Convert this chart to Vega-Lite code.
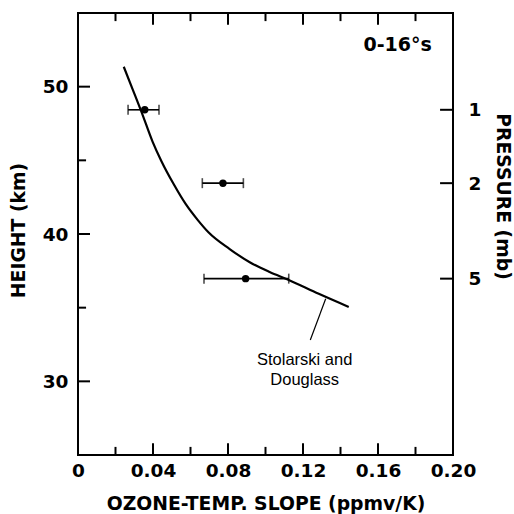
{
  "$schema": "https://vega.github.io/schema/vega-lite/v6.json",
  "autosize": "none",
  "width": 375,
  "height": 442,
  "padding": {"left": 78, "top": 13, "right": 61, "bottom": 59},
  "background": "white",
  "config": {
    "view": {"stroke": "black", "strokeWidth": 2},
    "axis": {
      "domain": false,
      "grid": false,
      "ticks": false,
      "tickSize": 0,
      "labelFont": "DejaVu Sans",
      "labelFontWeight": "bold",
      "labelFontSize": 18.5,
      "labelColor": "black",
      "titleFont": "DejaVu Sans",
      "titleFontWeight": "bold",
      "titleFontSize": 18.8,
      "titleColor": "black",
      "labelOverlap": false,
      "labelFlush": false
    }
  },
  "datasets": {
    "curve": [
      {"slope": 0.0244, "height": 51.35},
      {"slope": 0.0292, "height": 49.8},
      {"slope": 0.0338, "height": 48.31},
      {"slope": 0.0397, "height": 46.29},
      {"slope": 0.0445, "height": 44.94},
      {"slope": 0.051, "height": 43.39},
      {"slope": 0.0574, "height": 42.04},
      {"slope": 0.0638, "height": 40.96},
      {"slope": 0.0697, "height": 40.1},
      {"slope": 0.0809, "height": 38.98},
      {"slope": 0.0916, "height": 38.08},
      {"slope": 0.1022, "height": 37.42},
      {"slope": 0.1124, "height": 36.88},
      {"slope": 0.1284, "height": 35.94},
      {"slope": 0.1444, "height": 35.05}
    ],
    "obs": [
      {"pressure": 1, "height": 48.43, "slope": 0.0356, "lo": 0.0267, "hi": 0.0432},
      {"pressure": 2, "height": 43.45, "slope": 0.0773, "lo": 0.0663, "hi": 0.0882},
      {"pressure": 5, "height": 36.97, "slope": 0.0894, "lo": 0.0672, "hi": 0.1124}
    ],
    "slopeMajor": [{"slope": 0.04}, {"slope": 0.08}, {"slope": 0.12}, {"slope": 0.16}],
    "slopeMinor": [{"slope": 0.02}, {"slope": 0.06}, {"slope": 0.10}, {"slope": 0.14}, {"slope": 0.18}],
    "heightMajor": [{"height": 30}, {"height": 40}, {"height": 50}],
    "heightMinor": [{"height": 35}, {"height": 45}],
    "leader": [
      {"x1": 0.1321, "y1": 35.6, "x2": 0.1239, "y2": 32.8}
    ],
    "labels": [
      {"slope": 0.1209, "height": 31.46, "text": "Stolarski and"},
      {"slope": 0.1209, "height": 30.11, "text": "Douglass"}
    ],
    "region": [
      {"slope": 0.1705, "height": 52.83, "text": "0-16°s"}
    ]
  },
  "resolve": {"axis": {"x": "independent", "y": "independent"}},
  "layer": [
    {
      "data": {"name": "slopeMajor"},
      "mark": {"type": "rect", "color": "black", "width": 2},
      "encoding": {
        "x": {"field": "slope", "type": "quantitative", "axis": null, "scale": {"domain": [0, 0.2], "nice": false, "zero": false}},
        "y": {"datum": 25, "type": "quantitative", "axis": null, "scale": {"domain": [25, 55], "nice": false, "zero": false}},
        "y2": {"datum": 25.8}
      }
    },
    {
      "data": {"name": "slopeMinor"},
      "mark": {"type": "rect", "color": "black", "width": 2},
      "encoding": {
        "x": {"field": "slope", "type": "quantitative", "axis": null},
        "y": {"datum": 25, "type": "quantitative", "axis": null},
        "y2": {"datum": 25.55}
      }
    },
    {
      "data": {"name": "slopeMajor"},
      "mark": {"type": "rect", "color": "black", "width": 2},
      "encoding": {
        "x": {"field": "slope", "type": "quantitative", "axis": null},
        "y": {"datum": 54.2, "type": "quantitative", "axis": null},
        "y2": {"datum": 55}
      }
    },
    {
      "data": {"name": "slopeMinor"},
      "mark": {"type": "rect", "color": "black", "width": 2},
      "encoding": {
        "x": {"field": "slope", "type": "quantitative", "axis": null},
        "y": {"datum": 54.45, "type": "quantitative", "axis": null},
        "y2": {"datum": 55}
      }
    },
    {
      "data": {"name": "heightMajor"},
      "mark": {"type": "rect", "color": "black", "height": 2},
      "encoding": {
        "x": {"datum": 0, "type": "quantitative", "axis": null},
        "x2": {"datum": 0.0064},
        "y": {"field": "height", "type": "quantitative", "axis": null}
      }
    },
    {
      "data": {"name": "heightMinor"},
      "mark": {"type": "rect", "color": "black", "height": 2},
      "encoding": {
        "x": {"datum": 0, "type": "quantitative", "axis": null},
        "x2": {"datum": 0.0043},
        "y": {"field": "height", "type": "quantitative", "axis": null}
      }
    },
    {
      "data": {"name": "obs"},
      "mark": {"type": "rect", "color": "black", "height": 2},
      "encoding": {
        "x": {"datum": 0.1931, "type": "quantitative", "axis": null},
        "x2": {"datum": 0.2},
        "y": {"field": "height", "type": "quantitative", "axis": null}
      }
    },
    {
      "data": {"name": "curve"},
      "mark": {"type": "line", "color": "black", "strokeWidth": 2.2, "interpolate": "monotone"},
      "encoding": {
        "x": {
          "field": "slope", "type": "quantitative",
          "axis": {
            "orient": "bottom",
            "title": "OZONE-TEMP. SLOPE (ppmv/K)",
            "values": [0, 0.04, 0.08, 0.12, 0.16, 0.2],
            "labelExpr": "datum.value == 0 ? '0' : format(datum.value, '.2f')",
            "labelPadding": 6,
            "titleY": 48,
            "titleBaseline": "middle"
          }
        },
        "y": {
          "field": "height", "type": "quantitative",
          "axis": {
            "orient": "left",
            "title": "HEIGHT (km)",
            "values": [30, 40, 50],
            "labelPadding": 10,
            "titleX": -60,
            "titleY": 217,
            "titleBaseline": "middle"
          }
        },
        "order": {"field": "slope", "type": "quantitative"}
      }
    },
    {
      "data": {"name": "obs"},
      "mark": {"type": "rule", "color": "black", "strokeWidth": 1.6},
      "encoding": {
        "x": {"field": "lo", "type": "quantitative", "axis": null},
        "x2": {"field": "hi"},
        "y": {
          "field": "height", "type": "quantitative",
          "axis": {
            "orient": "right",
            "title": "PRESSURE (mb)",
            "titleAngle": 90,
            "values": [48.43, 43.45, 36.97],
            "labelExpr": "datum.value > 48 ? '1' : datum.value > 40 ? '2' : '5'",
            "labelPadding": 15,
            "titleX": 49,
            "titleY": 183,
            "titleBaseline": "middle"
          }
        }
      }
    },
    {
      "data": {"name": "obs"},
      "mark": {"type": "tick", "color": "black", "orient": "vertical", "size": 10, "thickness": 1.6},
      "encoding": {
        "x": {"field": "lo", "type": "quantitative", "axis": null},
        "y": {"field": "height", "type": "quantitative", "axis": null}
      }
    },
    {
      "data": {"name": "obs"},
      "mark": {"type": "tick", "color": "black", "orient": "vertical", "size": 10, "thickness": 1.6},
      "encoding": {
        "x": {"field": "hi", "type": "quantitative", "axis": null},
        "y": {"field": "height", "type": "quantitative", "axis": null}
      }
    },
    {
      "data": {"name": "obs"},
      "mark": {"type": "circle", "color": "black", "opacity": 1, "size": 55},
      "encoding": {
        "x": {"field": "slope", "type": "quantitative", "axis": null},
        "y": {"field": "height", "type": "quantitative", "axis": null}
      }
    },
    {
      "data": {"name": "leader"},
      "mark": {"type": "rule", "color": "black", "strokeWidth": 1.2},
      "encoding": {
        "x": {"field": "x1", "type": "quantitative", "axis": null},
        "y": {"field": "y1", "type": "quantitative", "axis": null},
        "x2": {"field": "x2"},
        "y2": {"field": "y2"}
      }
    },
    {
      "data": {"name": "labels"},
      "mark": {"type": "text", "font": "Liberation Sans", "fontSize": 16.5, "color": "black", "align": "center", "baseline": "middle"},
      "encoding": {
        "x": {"field": "slope", "type": "quantitative", "axis": null},
        "y": {"field": "height", "type": "quantitative", "axis": null},
        "text": {"field": "text"}
      }
    },
    {
      "data": {"name": "region"},
      "mark": {"type": "text", "font": "DejaVu Sans", "fontWeight": "bold", "fontSize": 19, "color": "black", "align": "center", "baseline": "middle"},
      "encoding": {
        "x": {"field": "slope", "type": "quantitative", "axis": null},
        "y": {"field": "height", "type": "quantitative", "axis": null},
        "text": {"field": "text"}
      }
    }
  ]
}
